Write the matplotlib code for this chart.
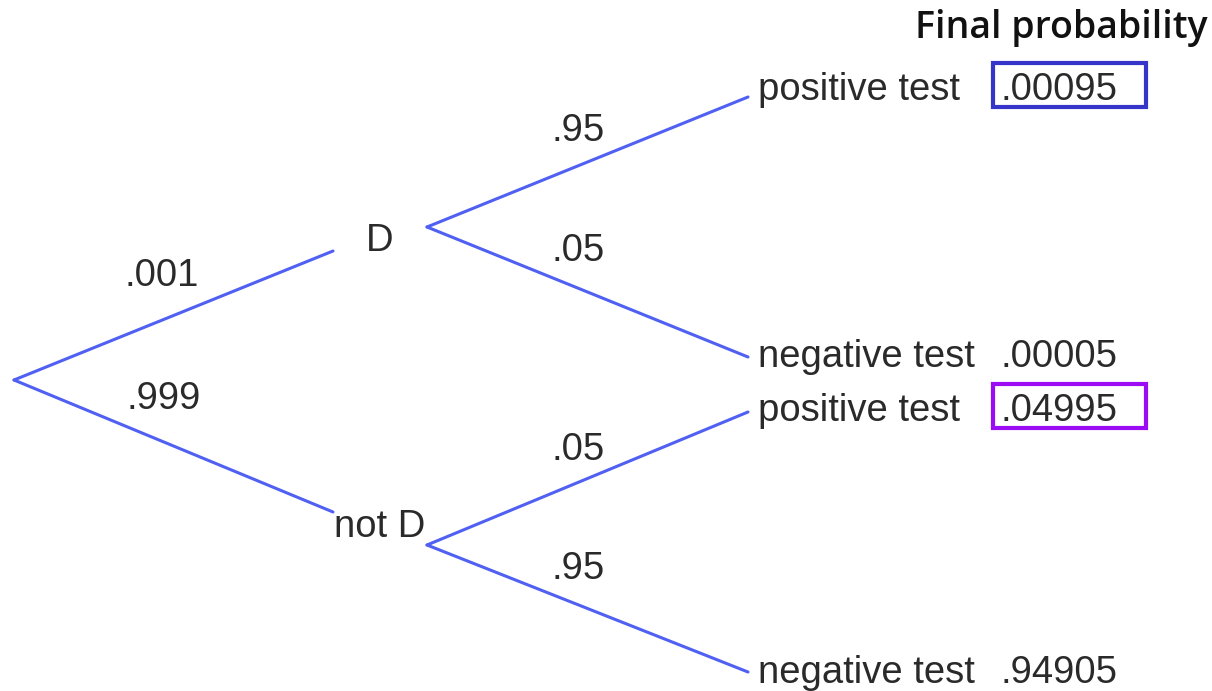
import matplotlib
matplotlib.use("Agg")
import matplotlib.pyplot as plt
from matplotlib.patches import Rectangle

# ---- data ----
first_nodes = ["D", "not D"]
first_probs = [".001", ".999"]
second_leaves = ["positive test", "negative test", "positive test", "negative test"]
second_probs = [".95", ".05", ".05", ".95"]
final_probs = [".00095", ".00005", ".04995", ".94905"]
highlight = {0: "#3535C9", 2: "#9B0CF5"}
title = "Final probability"

# ---- layout (pixel space) ----
W, H = 1212, 691
fig = plt.figure(figsize=(W / 100, H / 100), dpi=100)
ax = fig.add_axes([0, 0, 1, 1])
ax.set_xlim(0, W)
ax.set_ylim(H, 0)
ax.axis("off")

line_c = "#5060F2"
lw = 2.2
font = ["Liberation Sans", "DejaVu Sans"]
fs = 27.5
tc = "#2a2a2a"

root = (14, 380)
first_end = [(333, 251), (333, 512)]
first_lab = [(380, 241), (380, 527)]
first_prob_pos = [(162, 276), (164, 399)]
mid_start = [(427, 227), (427, 545)]
leaf_end = [(748, 97), (748, 357), (748, 412), (748, 672)]
second_prob_pos = [(578, 131), (578, 251), (578, 450), (578, 569)]
leaf_y = [90, 357, 411, 673]

for i in range(2):
    ax.plot([root[0], first_end[i][0]], [root[1], first_end[i][1]], color=line_c, lw=lw,
            solid_capstyle="round")
    ax.text(first_lab[i][0], first_lab[i][1], first_nodes[i], ha="center", va="center",
            fontsize=fs, family=font, color=tc)
    ax.text(first_prob_pos[i][0], first_prob_pos[i][1], first_probs[i], ha="center",
            va="center", fontsize=fs, family=font, color=tc)

for j in range(4):
    s = mid_start[j // 2]
    ax.plot([s[0], leaf_end[j][0]], [s[1], leaf_end[j][1]], color=line_c, lw=lw,
            solid_capstyle="round")
    ax.text(second_prob_pos[j][0], second_prob_pos[j][1], second_probs[j], ha="center",
            va="center", fontsize=fs, family=font, color=tc)
    ax.text(758, leaf_y[j], second_leaves[j], ha="left", va="center", fontsize=fs,
            family=font, color=tc)
    ax.text(1000, leaf_y[j], final_probs[j], ha="left", va="center", fontsize=fs,
            family=font, color=tc)
    if j in highlight:
        ax.add_patch(Rectangle((993, leaf_y[j] - 27), 153, 44, fill=False,
                               edgecolor=highlight[j], lw=3))

ax.text(1208, 28, title, ha="right", va="center", fontsize=27,
        family=["Open Sans", "DejaVu Sans"], fontweight="semibold", color="#111111")

fig.savefig("out.png", dpi=100)
